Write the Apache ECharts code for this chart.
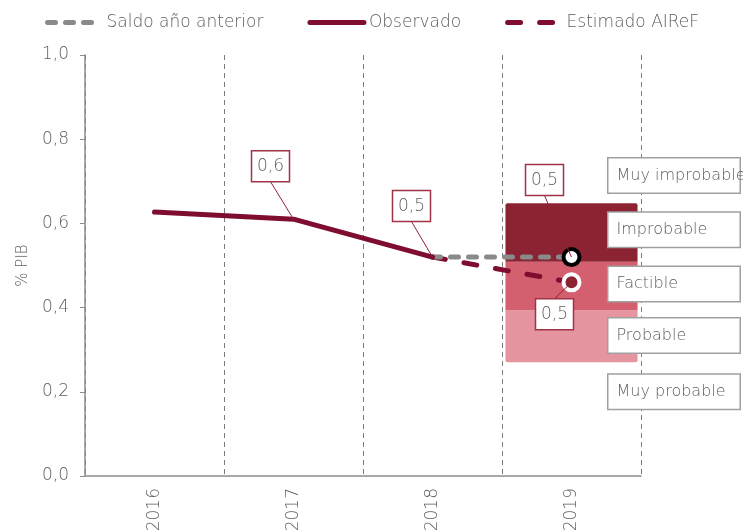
<!DOCTYPE html>
<html>
<head>
    <meta charset="utf-8">
    <title>Saldo % PIB</title>
    <style>
        html,body{width:100%;height:100%;overflow:hidden;padding:0;margin:0;background:#fff;}
        #main{width:743px;height:531px;}
    </style>
    <script src="https://cdn.jsdelivr.net/npm/echarts@6/dist/echarts.min.js"></script>
</head>
<body>
<div id="main"></div>

<script type="text/javascript">
    // datos
    var years = ['2016', '2017', '2018', '2019'];
    var observado = [0.627, 0.61, 0.52, null];
    var saldoAnterior = [null, null, 0.52, 0.52];
    var estimado = [null, null, 0.52, 0.46];

    // bandas de probabilidad 2019 (base, probable, factible, improbable)
    var bandaBase = [null, null, null, 0.27];
    var bandaProbable = [null, null, null, 0.124];
    var bandaFactible = [null, null, null, 0.115];
    var bandaImprobable = [null, null, null, 0.139];

    // etiquetas de la derecha
    var rangoNombres = ['Muy improbable', 'Improbable', 'Factible', 'Probable', 'Muy probable'];
    var rangoPos = [0.714, 0.585, 0.456, 0.334, 0.200];

    // etiquetas con linea guia: [categoria, valor]
    var callouts = [
        [1, observado[1]],
        [2, observado[2]],
        [3, saldoAnterior[3]],
        [3, estimado[3]]
    ];
    var calloutOffsets = [[-23, -53], [-21, -51], [-27, -77], [-17, 32]];

    var FONT = 'DejaVu Sans';
    var PESO = 200;
    var GRIS = '#5e5e5e';
    var GRANATE = '#7e0d30';

    var myChart = echarts.init(document.getElementById('main'));

    function fmt(v) {
        return v.toFixed(1).replace('.', ',');
    }

    var option = {
        animation: false,
        textStyle: {fontFamily: FONT},
        legend: {
            data: ['Saldo año anterior', 'Observado', 'Estimado AIReF'],
            left: 40,
            top: 9,
            itemWidth: 54,
            itemHeight: 10,
            itemGap: 44,
            itemStyle: {color: 'rgba(0,0,0,0)', borderWidth: 0},
            lineStyle: {width: 5, cap: 'round'},
            textStyle: {fontFamily: FONT, fontSize: 17, color: GRIS, fontWeight: PESO}
        },
        grid: {left: 85, right: 102, top: 55, bottom: 55, outerBoundsMode: 'none'},
        xAxis: {
            type: 'category',
            data: years,
            boundaryGap: true,
            axisLine: {lineStyle: {color: '#8c8c8c', width: 1.5}},
            axisTick: {show: false},
            splitLine: {show: true, lineStyle: {color: '#7a7a7a', type: [5, 4], width: 1}},
            axisLabel: {rotate: 90, margin: 12, fontSize: 17, color: GRIS, fontFamily: FONT, fontWeight: PESO}
        },
        yAxis: {
            type: 'value',
            min: 0, max: 1, interval: 0.2,
            name: '% PIB',
            nameLocation: 'middle',
            nameGap: 53,
            nameRotate: 90,
            nameTextStyle: {fontSize: 15, color: GRIS, fontFamily: FONT, fontWeight: PESO},
            axisLine: {show: true, lineStyle: {color: '#8c8c8c', width: 1.5}},
            axisTick: {show: true, length: 5, lineStyle: {color: '#8c8c8c'}},
            splitLine: {show: false},
            axisLabel: {
                margin: 16, fontSize: 17, color: GRIS, fontFamily: FONT, fontWeight: PESO,
                formatter: function (v) { return fmt(v); }
            }
        },
        series: [
            {
                type: 'bar', stack: 'banda', data: bandaBase, barWidth: '95%',
                itemStyle: {color: 'rgba(0,0,0,0)'}, silent: true
            },
            {
                type: 'bar', stack: 'banda', data: bandaProbable, barWidth: '95%',
                itemStyle: {color: '#e5959f', borderRadius: [0, 0, 2, 2]}
            },
            {
                type: 'bar', stack: 'banda', data: bandaFactible, barWidth: '95%',
                itemStyle: {color: '#d45f6f'}
            },
            {
                type: 'bar', stack: 'banda', data: bandaImprobable, barWidth: '95%',
                itemStyle: {color: '#8b2333', borderRadius: [2, 2, 0, 0]}
            },
            {
                name: 'Estimado AIReF', type: 'line', data: estimado, symbol: 'none',
                lineStyle: {color: GRANATE, width: 5, type: [13, 19], cap: 'round'},
                itemStyle: {color: GRANATE}, z: 3
            },
            {
                name: 'Saldo año anterior', type: 'line', data: saldoAnterior, symbol: 'none',
                lineStyle: {color: '#8a8a8a', width: 5, type: [8, 10], cap: 'round'},
                itemStyle: {color: '#8a8a8a'}, z: 4
            },
            {
                name: 'Observado', type: 'line', data: observado, symbol: 'none',
                lineStyle: {color: GRANATE, width: 5, cap: 'round'},
                itemStyle: {color: GRANATE}, z: 5
            },
            {
                // marcadores 2019
                type: 'scatter', symbolSize: 16, z: 6,
                itemStyle: {opacity: 1},
                data: [
                    {value: [3, saldoAnterior[3]], itemStyle: {color: '#fff', borderColor: '#000', borderWidth: 4, opacity: 1}},
                    {value: [3, estimado[3]], itemStyle: {color: '#8b2333', borderColor: '#fff', borderWidth: 4, opacity: 1}}
                ]
            },
            {
                // etiquetas con linea guia
                type: 'custom', z: 7, silent: true,
                data: callouts,
                renderItem: function (params, api) {
                    var p = api.coord([api.value(0), api.value(1)]);
                    var off = calloutOffsets[params.dataIndex];
                    var w = 38, h = 31;
                    var cx = p[0] + off[0], cy = p[1] + off[1];
                    var ey = off[1] < 0 ? cy + h / 2 : cy - h / 2;
                    return {
                        type: 'group',
                        children: [
                            {type: 'line', shape: {x1: cx, y1: ey, x2: p[0], y2: p[1]},
                                style: {stroke: '#8b2333', lineWidth: 1}},
                            {type: 'rect', shape: {x: cx - w / 2, y: cy - h / 2, width: w, height: h},
                                style: {fill: '#fff', stroke: '#a23345', lineWidth: 1.5}},
                            {type: 'text', x: cx, y: cy,
                                style: {text: fmt(api.value(1)), align: 'center', verticalAlign: 'middle',
                                    fontSize: 17, fontFamily: FONT, fontWeight: PESO, fill: GRIS}}
                        ]
                    };
                }
            },
            {
                // cajas de probabilidad
                type: 'scatter', symbolSize: 0, z: 8, silent: true,
                itemStyle: {opacity: 1},
                data: rangoNombres.map(function (n, i) { return {name: n, value: [3, rangoPos[i]]}; }),
                label: {
                    show: true, position: 'right', distance: 37,
                    formatter: function (p) { return p.name; },
                    width: 115, padding: [0, 8], lineHeight: 34,
                    backgroundColor: '#fff', borderColor: '#a0a0a0', borderWidth: 1.5,
                    fontSize: 16, fontFamily: FONT, fontWeight: PESO, color: GRIS
                }
            }
        ]
    };

    myChart.setOption(option);
</script>
</body>
</html>
